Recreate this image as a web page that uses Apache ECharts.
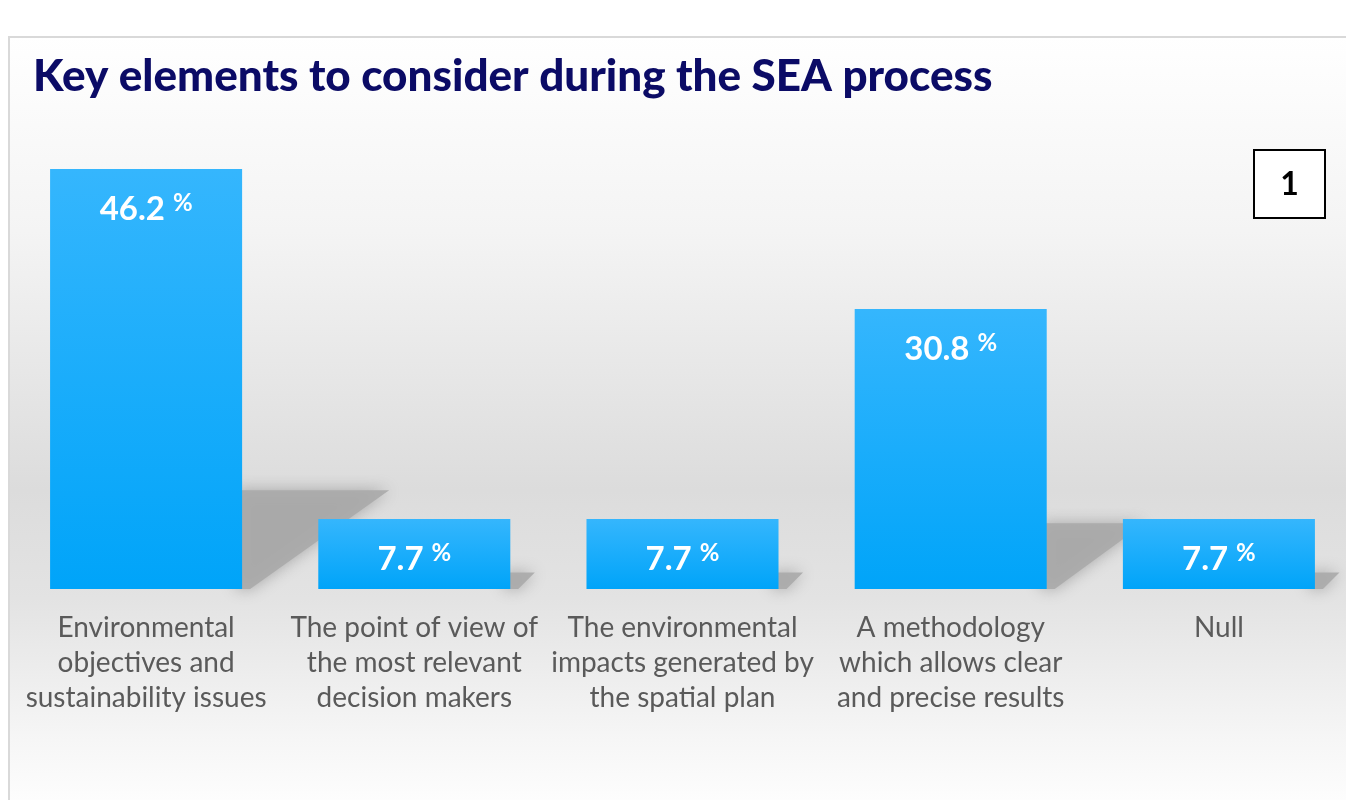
<!DOCTYPE html>
<html>
<head>
<meta charset="utf-8">
<script src="https://cdn.jsdelivr.net/npm/echarts@6/dist/echarts.min.js"></script>
<style>
html,body{margin:0;padding:0;background:#ffffff;}
#chart{width:1346px;height:800px;}
</style>
</head>
<body>
<div id="chart"></div>
<script>
const titleText = 'Key elements to consider during the SEA process';
const categories = [
  'Environmental\nobjectives and\nsustainability issues',
  'The point of view of\nthe most relevant\ndecision makers',
  'The environmental\nimpacts generated by\nthe spatial plan',
  'A methodology\nwhich allows clear\nand precise results',
  'Null'
];
const percentValues = [46.2, 7.7, 7.7, 30.8, 7.7];
const boxLabel = '1';

const chart = echarts.init(document.getElementById('chart'), null, {renderer: 'canvas'});

const barWidthRatio = 0.716;

const option = {
  animation: false,
  backgroundColor: '#ffffff',
  title: {
    text: titleText,
    left: 28,
    top: 50,
    textStyle: {
      fontFamily: 'Lato',
      fontWeight: 900,
      fontSize: 44,
      color: '#0b0b66'
    }
  },
  graphic: [
    {
      type: 'rect',
      z: -10,
      silent: true,
      shape: {x: 9, y: 37, width: 1350, height: 780},
      style: {
        fill: new echarts.graphic.LinearGradient(0, 0, 0, 1, [
          {offset: 0, color: '#ffffff'},
          {offset: 0.25, color: '#f4f4f4'},
          {offset: 0.58, color: '#dcdcdc'},
          {offset: 0.72, color: '#e3e3e3'},
          {offset: 0.9, color: '#f6f6f6'},
          {offset: 1, color: '#ffffff'}
        ]),
        stroke: '#d9d9d9',
        lineWidth: 2
      }
    },
    {
      type: 'group',
      z: 10,
      children: [
        {
          type: 'rect',
          shape: {x: 1254, y: 150, width: 71, height: 68},
          style: {fill: '#ffffff', stroke: '#000000', lineWidth: 2}
        },
        {
          type: 'text',
          x: 1289.5,
          y: 185,
          style: {
            text: boxLabel,
            align: 'center',
            verticalAlign: 'middle',
            fontFamily: 'Lato',
            fontWeight: 'bold',
            fontSize: 32,
            fill: '#000000'
          }
        }
      ]
    }
  ],
  grid: {
    left: 12,
    width: 1341,
    top: 134.5,
    bottom: 211,
    containLabel: false,
    outerBoundsMode: 'none'
  },
  xAxis: {
    type: 'category',
    data: categories,
    axisLine: {show: false},
    axisTick: {show: false},
    axisLabel: {
      interval: 0,
      margin: 21,
      fontFamily: 'Lato',
      fontSize: 28,
      lineHeight: 35,
      color: '#5a5a5a',
      verticalAlign: 'top'
    }
  },
  yAxis: {
    type: 'value',
    min: 0,
    max: 50,
    show: false,
    splitLine: {show: false}
  },
  series: [
    {
      type: 'custom',
      z: 1,
      silent: true,
      data: percentValues.map(function (v, i) { return [i, v]; }),
      renderItem: function (params, api) {
        const idx = api.value(0);
        const v = api.value(1);
        const top = api.coord([idx, v]);
        const base = api.coord([idx, 0]);
        const bw = api.size([1, 0])[0] * barWidthRatio;
        const xr = base[0] + bw / 2;
        const h = base[1] - top[1];
        const dy = h * 0.235;
        const dx = h * 0.35;
        return {
          type: 'polygon',
          shape: {
            points: [
              [xr - 6, base[1]],
              [xr - 6, base[1] - dy],
              [xr + dx, base[1] - dy],
              [xr + 8, base[1]]
            ]
          },
          style: {
            fill: 'rgba(170,170,170,0.9)',
            shadowBlur: 16,
            shadowColor: 'rgba(160,160,160,1)'
          }
        };
      }
    },
    {
      type: 'bar',
      z: 2,
      data: percentValues,
      barWidth: (barWidthRatio * 100) + '%',
      itemStyle: {
        color: new echarts.graphic.LinearGradient(0, 0, 0, 1, [
          {offset: 0, color: '#35b6fd'},
          {offset: 1, color: '#00a4f9'}
        ])
      },
      label: {
        show: true,
        position: 'insideTop',
        distance: 22,
        formatter: function (p) {
          return '{n|' + p.value.toFixed(1) + '}{p|%}';
        },
        rich: {
          n: {
            fontFamily: 'Lato',
            fontWeight: 'bold',
            fontSize: 33,
            color: '#ffffff'
          },
          p: {
            fontFamily: 'Lato',
            fontWeight: 'bold',
            fontSize: 24,
            color: '#ffffff',
            padding: [0, 0, 12, 8]
          }
        }
      }
    }
  ]
};

chart.setOption(option);
</script>
</body>
</html>
